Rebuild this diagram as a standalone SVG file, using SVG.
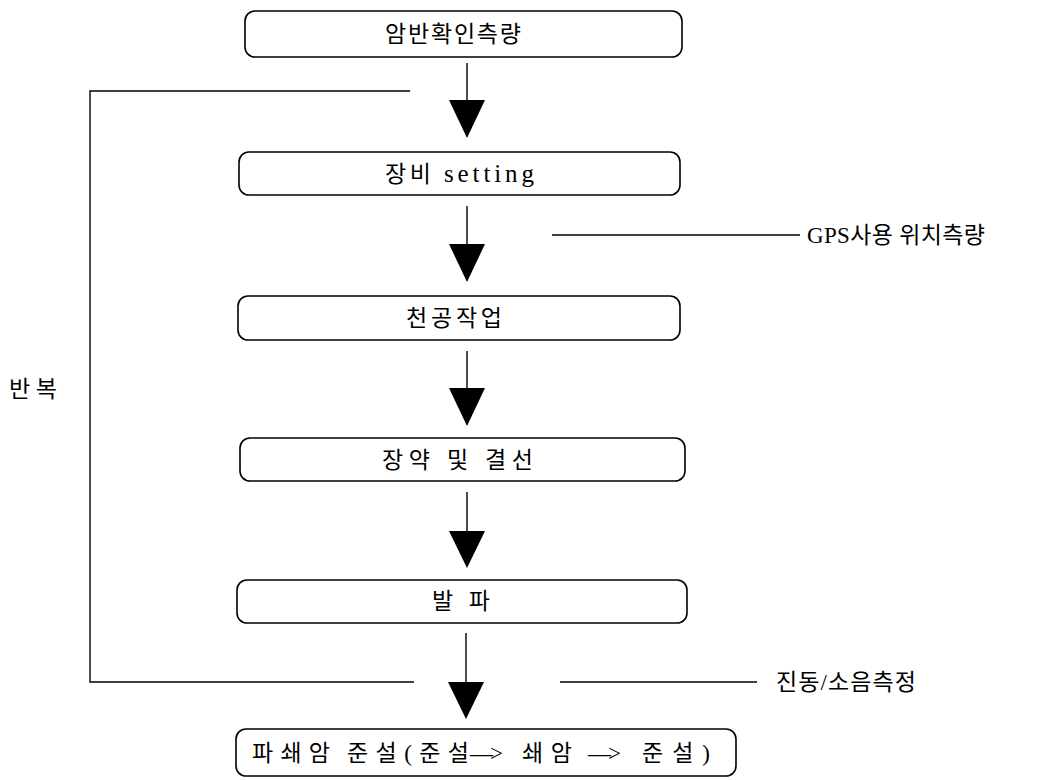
<svg xmlns="http://www.w3.org/2000/svg" width="1053" height="780" viewBox="0 0 1053 780">
<defs>
<style>
.box{fill:#fff;stroke:#000;stroke-width:1.6}
.t{font-family:"Liberation Serif","Noto Sans CJK KR",serif;font-size:23px;fill:#000}
.ar{font-family:"Liberation Serif","Noto Sans CJK KR",serif;font-size:23px;fill:#000;letter-spacing:-3px}
.ln{stroke:#000;stroke-width:1.4;fill:none}
.ah{fill:#000}
</style>
</defs>
<rect width="1053" height="780" fill="#fff"/>
<g id="connectors">
<line class="ln" x1="467" y1="63" x2="467" y2="102"/>
<polygon class="ah" points="449,100 485,100 467,138"/>
<line class="ln" x1="467" y1="206" x2="467" y2="246"/>
<polygon class="ah" points="449,244 485,244 467,282"/>
<line class="ln" x1="467" y1="351" x2="467" y2="392"/>
<polygon class="ah" points="449,388 485,388 467,426"/>
<line class="ln" x1="467" y1="492" x2="467" y2="534"/>
<polygon class="ah" points="449,531 485,531 467,568"/>
<line class="ln" x1="466" y1="633" x2="466" y2="684"/>
<polygon class="ah" points="448,682 484,682 466,719"/>
<polyline class="ln" points="410,91 90,91 90,682 414,682"/>
<line class="ln" x1="552" y1="235" x2="800" y2="235"/>
<line class="ln" x1="560" y1="682" x2="757" y2="682"/>
</g>
<g id="n1"><rect class="box" x="245" y="11" width="437" height="46" rx="10"/><text class="t" x="385" y="42" textLength="136" lengthAdjust="spacing">암반확인측량</text></g>
<g id="n2"><rect class="box" x="239" y="152" width="441" height="43" rx="10"/><text class="t" x="385" y="182" textLength="46" lengthAdjust="spacing">장비</text><text class="t" x="444" y="182" textLength="90" lengthAdjust="spacing" style="font-size:25px">setting</text></g>
<g id="n3"><rect class="box" x="238" y="296" width="442" height="44" rx="10"/><text class="t" x="406" y="326" textLength="96" lengthAdjust="spacing">천공작업</text></g>
<g id="n4"><rect class="box" x="240" y="438" width="445" height="43" rx="10"/><text class="t" x="382" y="468" textLength="151" lengthAdjust="spacing">장약 및 결선</text></g>
<g id="n5"><rect class="box" x="237" y="580" width="450" height="43" rx="10"/><text class="t" x="432" y="609" textLength="58" lengthAdjust="spacing">발파</text></g>
<g id="n6"><rect class="box" x="236" y="729" width="500" height="47" rx="10"/>
<text class="t" x="252" y="761" textLength="78" lengthAdjust="spacing">파쇄암</text>
<text class="t" x="347" y="761" textLength="122" lengthAdjust="spacing">준설(준설</text>
<text class="ar" x="470" y="761">—&gt;</text>
<text class="t" x="522" y="761" textLength="50" lengthAdjust="spacing">쇄암</text>
<text class="ar" x="588" y="761">—&gt;</text>
<text class="t" x="642" y="761" textLength="68" lengthAdjust="spacing">준설)</text>
</g>
<g id="l-gps"><text class="t" x="807" y="243" textLength="178" lengthAdjust="spacing">GPS사용 위치측량</text></g>
<g id="l-vib"><text class="t" x="776" y="690" textLength="140" lengthAdjust="spacing">진동/소음측정</text></g>
<g id="l-rep"><text class="t" x="9" y="397" textLength="48" lengthAdjust="spacing">반복</text></g>
</svg>
